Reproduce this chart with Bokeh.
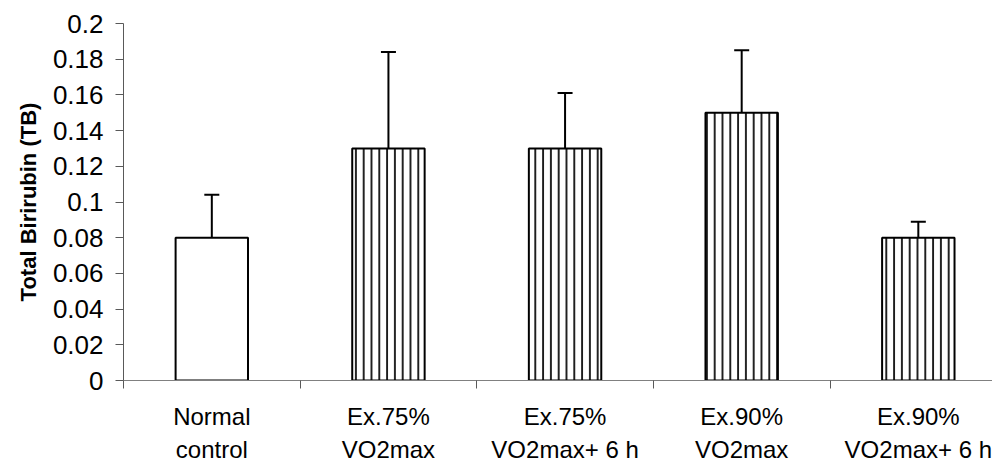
from bokeh.plotting import figure
from bokeh.models import ColumnDataSource, Range1d, FixedTicker, NumeralTickFormatter, Whisker, TeeHead
from bokeh.embed import file_html
from bokeh.resources import INLINE

categories = ["Normal\ncontrol", "Ex.75%\nVO2max", "Ex.75%\nVO2max+ 6 h", "Ex.90%\nVO2max", "Ex.90%\nVO2max+ 6 h"]
values = [0.08, 0.13, 0.13, 0.15, 0.08]
upper_err = [0.024, 0.054, 0.031, 0.035, 0.009]
hatches = [" ", "|", "|", "|", "|"]
y_ticks = [0, 0.02, 0.04, 0.06, 0.08, 0.1, 0.12, 0.14, 0.16, 0.18, 0.2]

xs = list(range(len(categories)))
src = ColumnDataSource(dict(
    x=xs, top=values, hatch=hatches,
    upper=[v + e for v, e in zip(values, upper_err)],
))

FONT = "Liberation Sans"

p = figure(width=992, height=466, output_backend="svg", toolbar_location=None,
           x_range=Range1d(-0.5, 4.42), y_range=Range1d(0, 0.2),
           min_border_left=123, min_border_right=0, min_border_top=23, min_border_bottom=85)
p.outline_line_color = None
p.xgrid.visible = False
p.ygrid.visible = False
p.background_fill_color = "white"

p.vbar(x="x", top="top", width=0.41, source=src, fill_color="white",
       line_color="black", line_width=2,
       hatch_pattern="hatch", hatch_color="#1a1a1a", hatch_scale=7.8, hatch_weight=1.9)

wh = Whisker(base="x", lower="top", upper="upper", source=src, line_color="black", line_width=2,
             upper_head=TeeHead(size=15, line_color="black", line_width=2), lower_head=None)
p.add_layout(wh)

# y axis
ya = p.yaxis[0]
ya.ticker = FixedTicker(ticks=y_ticks)
ya.formatter = NumeralTickFormatter(format="0.[00]")
ya.axis_line_color = "#595959"
ya.major_tick_line_color = "#595959"
ya.major_tick_out = 8
ya.major_tick_in = 0
ya.minor_tick_line_color = None
ya.major_label_text_font = FONT
ya.major_label_text_font_size = "26px"
ya.major_label_text_color = "black"
ya.major_label_standoff = 12
ya.axis_label = "Total Birirubin (TB)"
ya.axis_label_text_font = FONT
ya.axis_label_text_font_style = "bold"
ya.axis_label_text_font_size = "22px"
ya.axis_label_text_color = "black"
ya.axis_label_standoff = 9

# x axis
xa = p.xaxis[0]
xa.ticker = FixedTicker(ticks=xs, minor_ticks=[i - 0.5 for i in xs] + [len(xs) - 0.5])
xa.major_label_overrides = {i: c for i, c in zip(xs, categories)}
xa.axis_line_color = "#808080"
xa.major_tick_line_color = None
xa.major_tick_out = 0
xa.major_tick_in = 0
xa.minor_tick_line_color = "#595959"
xa.minor_tick_out = 8
xa.minor_tick_in = 0
xa.major_label_text_font = FONT
xa.major_label_text_font_size = "24px"
xa.major_label_text_color = "black"
xa.major_label_standoff = 14
xa.major_label_text_line_height = 1.25

open("out.html", "w").write(file_html(p, INLINE))
